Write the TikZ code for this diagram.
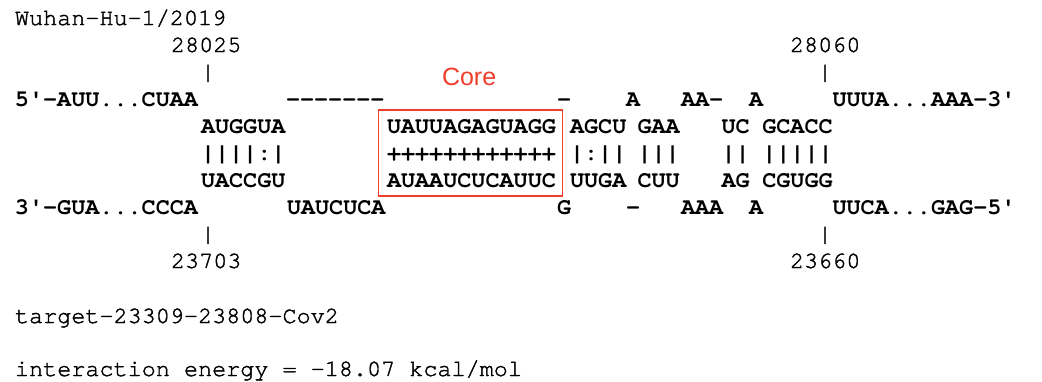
\documentclass[tikz,border=0pt]{standalone}
\usepackage{fontspec}
\setmonofont{texgyrecursor-regular.otf}[BoldFont=texgyrecursor-bold.otf]
\newfontfamily\labfont{texgyrecursor-regular.otf}[FakeBold=1.6]
\newfontfamily\coresans{Liberation Sans}
\definecolor{corered}{RGB}{240,62,45}
\tikzset{
  txt/.style={anchor=base west, inner sep=0pt, outer sep=0pt,
    font=\labfont\fontsize{23.47}{28}\selectfont},
  seq/.style={anchor=base west, inner sep=0pt, outer sep=0pt,
    font=\ttfamily\bfseries\fontsize{23.47}{28}\selectfont},
  corelbl/.style={anchor=base west, inner sep=0pt, outer sep=0pt,
    font=\coresans\fontsize{25}{28}\selectfont, text=corered},
  corebx/.style={draw=corered, line width=1.5pt, inner sep=0pt,
    minimum width=184pt, minimum height=86pt}
}
\begin{document}
\begin{tikzpicture}[x=1pt,y=-1pt]
\useasboundingbox (0,0) rectangle (1042,381);
% header
\node[txt] (title) at (15,25) {Wuhan-Hu-1/2019};
\node[txt] (p28025) at (171,52) {28025};
\node[txt] (p28060) at (790,52) {28060};
\node[txt] (tickA) at (201,79) {|};
\node[txt] (tickB) at (818,79) {|};
% row: 5' strand unpaired
\node[seq] (t5) at (15,106) {5'-AUU...CUAA};
\node[seq] (tgap1) at (286,106) {-------};
\node[seq] (tgap2) at (557,106) {-};
\node[seq] (tgap3) at (626,106) {A};
\node[seq] (tgap4) at (681,106) {AA-};
\node[seq] (tgap5) at (749,106) {A};
\node[seq] (t3) at (832.5,106) {UUUA...AAA-3'};
% row: 5' strand paired
\node[seq] (h1t) at (201,133) {AUGGUA};
\node[seq] (coreT) at (387,133) {UAUUAGAGUAGG};
\node[seq] (h2t) at (570,133) {AGCU};
\node[seq] (h3t) at (637.5,133) {GAA};
\node[seq] (h4t) at (721.5,133) {UC};
\node[seq] (h5t) at (762.3,133) {GCACC};
% row: pairing symbols
\node[seq] (h1m) at (201,160) {||||:|};
\node[seq] (coreM) at (387,160) {++++++++++++};
\node[seq] (h2m) at (570,160) {|:||};
\node[seq] (h3m) at (637.5,160) {|||};
\node[seq] (h4m) at (721.5,160) {||};
\node[seq] (h5m) at (762.3,160) {|||||};
% row: 3' strand paired
\node[seq] (h1b) at (201,187) {UACCGU};
\node[seq] (coreB) at (387,187) {AUAAUCUCAUUC};
\node[seq] (h2b) at (570,187) {UUGA};
\node[seq] (h3b) at (637.5,187) {CUU};
\node[seq] (h4b) at (721.5,187) {AG};
\node[seq] (h5b) at (762.3,187) {CGUGG};
% row: 3' strand unpaired
\node[seq] (b3) at (15,214) {3'-GUA...CCCA};
\node[seq] (bgap1) at (287,214) {UAUCUCA};
\node[seq] (bgap2) at (557,214) {G};
\node[seq] (bgap3) at (626,214) {-};
\node[seq] (bgap4) at (681,214) {AAA};
\node[seq] (bgap5) at (749,214) {A};
\node[seq] (b5) at (832.5,214) {UUCA...GAG-5'};
% footer positions
\node[txt] (tickC) at (201,241) {|};
\node[txt] (tickD) at (818,241) {|};
\node[txt] (p23703) at (171,268) {23703};
\node[txt] (p23660) at (790,268) {23660};
\node[txt] (target) at (15,323) {target-23309-23808-Cov2};
\node[txt] (energy) at (15,376) {interaction energy = -18.07 kcal/mol};
% core highlight
\node[corebx] (corebox) at (470.5,153) {};
\node[corelbl] (corelabel) at (442,85) {Core};
\end{tikzpicture}
\end{document}
